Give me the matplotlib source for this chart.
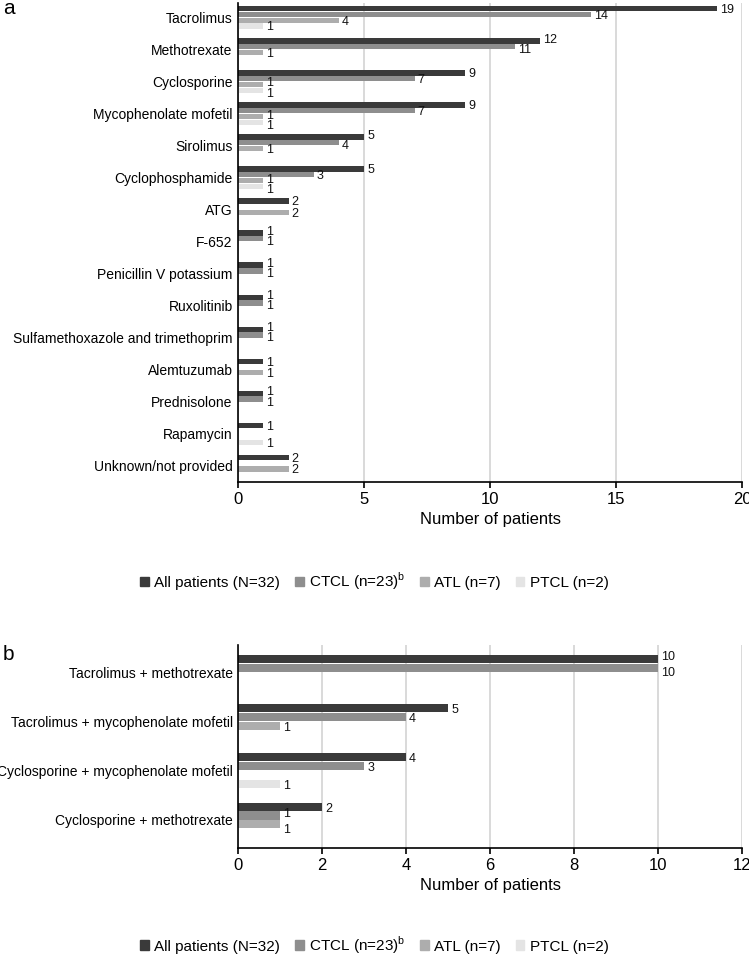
import matplotlib
matplotlib.use("Agg")
import matplotlib.pyplot as plt
import numpy as np

plt.rcParams['font.family'] = ['Liberation Sans', 'DejaVu Sans']
plt.rcParams['mathtext.fontset'] = 'custom'
plt.rcParams['mathtext.rm'] = 'Liberation Sans'

# panel a: single drugs
cats_a = ["Tacrolimus", "Methotrexate", "Cyclosporine", "Mycophenolate mofetil",
          "Sirolimus", "Cyclophosphamide", "ATG", "F-652", "Penicillin V potassium",
          "Ruxolitinib", "Sulfamethoxazole and trimethoprim", "Alemtuzumab",
          "Prednisolone", "Rapamycin", "Unknown/not provided"]
all_a = [19, 12, 9, 9, 5, 5, 2, 1, 1, 1, 1, 1, 1, 1, 2]
ctcl_a = [14, 11, 7, 7, 4, 3, 0, 1, 1, 1, 1, 0, 1, 0, 0]
atl_a = [4, 1, 1, 1, 1, 1, 2, 0, 0, 0, 0, 1, 0, 0, 2]
ptcl_a = [1, 0, 1, 1, 0, 1, 0, 0, 0, 0, 0, 0, 0, 1, 0]

# panel b: combinations
cats_b = ["Tacrolimus + methotrexate", "Tacrolimus + mycophenolate mofetil",
          "Cyclosporine + mycophenolate mofetil", "Cyclosporine + methotrexate"]
all_b = [10, 5, 4, 2]
ctcl_b = [10, 4, 3, 1]
atl_b = [0, 1, 0, 1]
ptcl_b = [0, 0, 1, 0]

series_names = ["All patients (N=32)", r"CTCL (n=23)$^{\mathrm{b}}$", "ATL (n=7)", "PTCL (n=2)"]
colors = ["#3a3a3a", "#8e8e8e", "#adadad", "#e4e4e4"]

step = 0.18
bar_h = 0.165


def draw(ax, cats, series, xmax, xstep, ylim):
    y = np.arange(len(cats))
    data = np.array(series)
    for i, vals in enumerate(data):
        pos = y + (i - 1.5) * step
        mask = vals > 0
        ax.barh(pos[mask], vals[mask], height=bar_h, color=colors[i], zorder=3)
    # value labels, nudged apart where two short neighbours would collide
    near = xmax * 0.06
    for j in range(len(cats)):
        for i in range(4):
            v = data[i, j]
            if v <= 0:
                continue
            dy = 0.04
            if i < 3 and data[i + 1, j] > 0 and abs(data[i + 1, j] - v) < near:
                dy -= 0.07
            if i > 0 and data[i - 1, j] > 0 and abs(data[i - 1, j] - v) < near:
                dy += 0.07
            ax.text(v + xmax * 0.006, y[j] + (i - 1.5) * step + dy, str(v),
                    va="center", ha="left", fontsize=9, color="#111111", zorder=4)
    ax.set_yticks(y)
    ax.set_yticklabels(cats, fontsize=10)
    ax.set_ylim(*ylim)
    ax.set_xlim(0, xmax)
    ax.set_xticks(np.arange(0, xmax + 0.1, xstep))
    ax.tick_params(axis="x", labelsize=12, length=4, width=1.2, color="black")
    ax.tick_params(axis="y", length=0, pad=4)
    ax.grid(axis="x", color="#d9d9d9", linewidth=1.4, zorder=0)
    for s in ["top", "right"]:
        ax.spines[s].set_visible(False)
    for s in ["left", "bottom"]:
        ax.spines[s].set_linewidth(1.2)
        ax.spines[s].set_zorder(5)
    ax.set_xlabel("Number of patients", fontsize=12, labelpad=3)


fig = plt.figure(figsize=(7.49, 9.56), dpi=100)
ax_a = fig.add_axes([0.318, 0.4958, 0.6727, 0.501])
ax_b = fig.add_axes([0.318, 0.1130, 0.6727, 0.2123])

draw(ax_a, cats_a, [all_a, ctcl_a, atl_a, ptcl_a], 20, 5, (14.5, -0.45))
draw(ax_b, cats_b, [all_b, ctcl_b, atl_b, ptcl_b], 12, 2, (3.57, -0.55))

fig.text(0.004, 0.991, "a", fontsize=15, va="center", ha="left")
fig.text(0.004, 0.315, "b", fontsize=15, va="center", ha="left")

handles = [plt.Rectangle((0, 0), 1, 1, color=c) for c in colors]
for ypos in [0.392, 0.0115]:
    fig.legend(handles, series_names, loc="center", bbox_to_anchor=(0.5, ypos),
               ncol=4, frameon=False, fontsize=11, handlelength=0.55, handleheight=0.55,
               handletextpad=0.35, columnspacing=1.0)

fig.savefig("out.png", dpi=100)
